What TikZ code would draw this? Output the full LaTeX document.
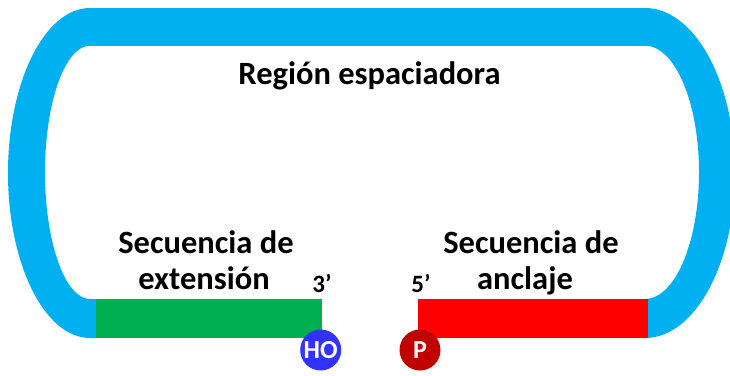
\documentclass[tikz,border=0pt]{standalone}
\usepackage{fontspec}
\setmainfont{Carlito}
\definecolor{loopblue}{HTML}{00B0F0}
\definecolor{seqgreen}{HTML}{00B050}
\definecolor{seqred}{HTML}{FF0000}
\definecolor{hoblue}{HTML}{3333FF}
\definecolor{pred}{HTML}{C00000}
\begin{document}
\begin{tikzpicture}[x=1pt,y=1pt,
  lbl/.style={font=\bfseries\fontsize{32.5}{36}\selectfont, inner sep=0pt, align=center},
  endlbl/.style={font=\bfseries\fontsize{25}{28}\selectfont, inner sep=0pt, anchor=base},
  endgroup/.style={circle, minimum size=41pt, inner sep=0pt, text=white, font=\bfseries\fontsize{26}{28}\selectfont}]
\useasboundingbox (0,0) rectangle (730,375);
\clip (0,0) rectangle (730,375);
% loop (spacer region)
\fill[loopblue] (90,367) arc[start angle=90,end angle=270,x radius=82pt,y radius=165pt]
  -- (97,37) -- (97,76) -- (90,76)
  arc[start angle=270,end angle=90,x radius=45pt,y radius=126.65pt] -- cycle;
\fill[loopblue] (89,329.3) rectangle (646,367);
\fill[loopblue] (645,367) arc[start angle=90,end angle=-90,x radius=90pt,y radius=165pt]
  -- (645,76) arc[start angle=-90,end angle=90,x radius=54pt,y radius=126.65pt] -- cycle;
% sequences
\fill[seqgreen] (96,37) rectangle (322,76);
\fill[seqred] (418,37) rectangle (648,76);
% labels
\node[lbl, anchor=base] (title) at (369.5,290) {Región espaciadora};
\node[lbl, anchor=base] (ext1) at (206,122) {Secuencia de};
\node[lbl, anchor=base] (ext2) at (204,86) {extensión};
\node[lbl, anchor=base] (anc1) at (531,122) {Secuencia de};
\node[lbl, anchor=base] (anc2) at (525,86) {anclaje};
\node[endlbl] (three) at (322,83) {3’};
\node[endlbl] (five) at (421,83) {5’};
% end groups
\node[endgroup, fill=hoblue] (ho) at (320.7,25) {HO};
\node[endgroup, fill=pred] (p) at (420,25) {P};
\end{tikzpicture}
\end{document}
